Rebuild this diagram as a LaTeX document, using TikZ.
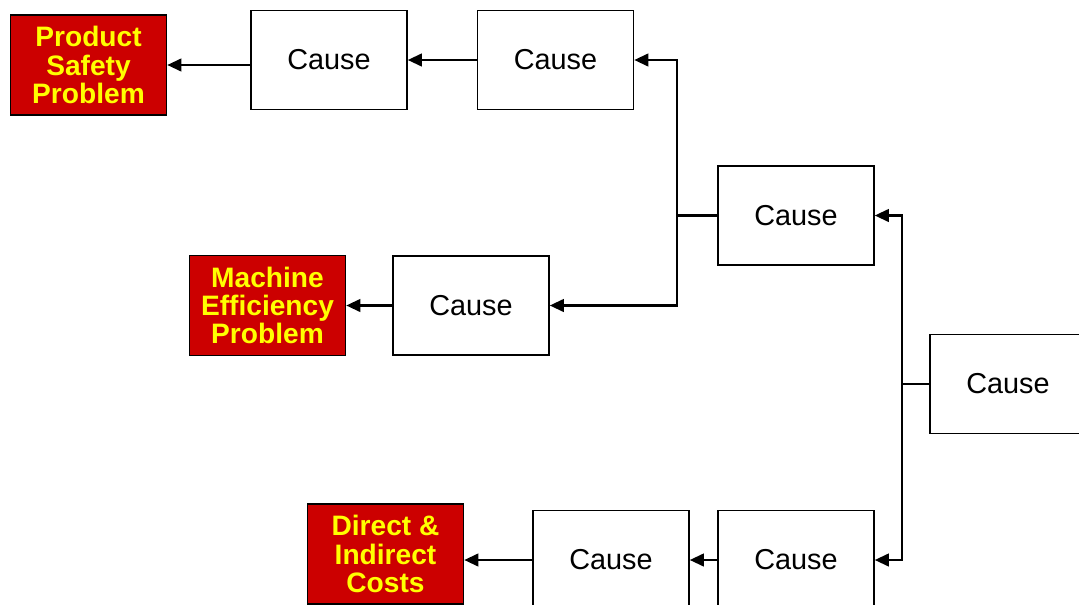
\documentclass[tikz,border=0pt]{standalone}
\usepackage{fontspec}
\setmainfont{Liberation Sans}
\usetikzlibrary{arrows.meta}

\definecolor{probred}{HTML}{CC0000}
\definecolor{probyellow}{HTML}{FFFF00}

\begin{document}
\begin{tikzpicture}[x=0.025cm,y=-0.025cm,
        cause/.style={draw,line width=1.1pt,inner sep=0pt,minimum width=3.9cm,minimum height=2.47cm,font=\fontsize{20.5}{24}\selectfont},
        problem/.style={draw,line width=1.1pt,fill=probred,text=probyellow,align=center,inner sep=0pt,minimum width=3.9cm,minimum height=2.5cm,font=\bfseries\fontsize{20}{20}\selectfont},
        link/.style={line width=1.6pt,-{Triangle[length=10pt,width=9pt]}},
        joint/.style={line width=1.6pt}]
        \useasboundingbox (0,0) rectangle (1079,605);

        % problem boxes
        \node[problem] (safety) at (88.5,65) {Product\\Safety\\Problem};
        \node[problem] (machine) at (267.5,305.5) {Machine\\Efficiency\\Problem};
        \node[problem] (costs) at (385.5,554) {Direct \&\\Indirect\\Costs};

        % causes
        \node[cause] (c1) at (329,60) {Cause};
        \node[cause] (c2) at (555.5,60) {Cause};
        \node[cause] (c3) at (796,215.5) {Cause};
        \node[cause] (c4) at (471,305.5) {Cause};
        \node[cause] (c5) at (1008,384) {Cause};
        \node[cause] (c6) at (611,560) {Cause};
        \node[cause] (c7) at (796,560) {Cause};

        % chains
        \draw[link] (c1.west |- safety.east) -- (safety.east);
        \draw[link] (c2.west) -- (c1.east);
        \draw[link] (c4.west) -- (machine.east);
        \draw[link] (c6.west) -- (c6.west -| costs.east);
        \draw[link] (c7.west) -- (c6.east);

        % branching
        \coordinate (b1) at (677,215.5);
        \coordinate (b2) at (902,384);
        \draw[joint] (c3.west) -- (b1);
        \draw[link] (b1) |- (c2.east);
        \draw[link] (b1) |- (c4.east);
        \draw[joint] (c5.west) -- (b2);
        \draw[link] (b2) |- (c3.east);
        \draw[link] (b2) |- (c7.east);
    \end{tikzpicture}
\end{document}
